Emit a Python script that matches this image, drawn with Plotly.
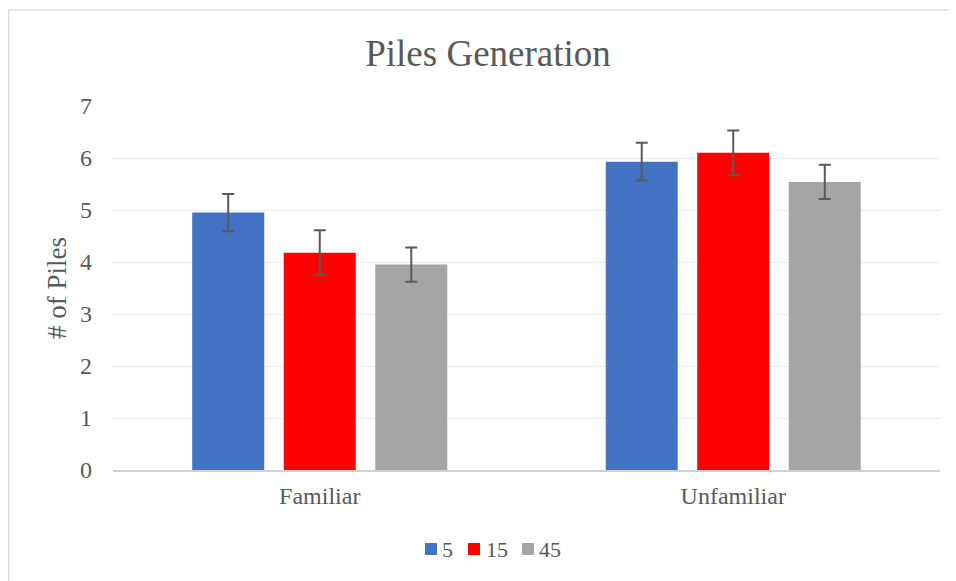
import plotly.graph_objects as go

categories = ["Familiar", "Unfamiliar"]
series_names = ["5", "15", "45"]
values_5 = [4.95, 5.93]
values_15 = [4.18, 6.10]
values_45 = [3.95, 5.54]
err_5 = [0.36, 0.365]
err_15 = [0.43, 0.43]
err_45 = [0.33, 0.33]
y_ticks = [0, 1, 2, 3, 4, 5, 6, 7]

colors = ["#4472C4", "#FF0000", "#A5A5A5"]
FONT = "Liberation Serif, Times New Roman, serif"
TXT = "#595959"

# figure geometry (page body has an 8px margin)
W, H = 948, 573
L, R, T, B = 105, 16, 98, 111
PW, PH = W - L - R, H - T - B
OX, OY = 8, 8


def px_x(X):
    return (X - OX - L) / PW


def px_y(Y):
    return (OY + T + PH - Y) / PH


fig = go.Figure()
for name, vals, errs, col in zip(series_names, [values_5, values_15, values_45],
                                 [err_5, err_15, err_45], colors):
    fig.add_trace(go.Bar(
        x=categories, y=vals, name=name, marker=dict(color=col, line=dict(width=0)),
        error_y=dict(type="data", array=errs, visible=True, color=TXT,
                     thickness=2, width=6),
        showlegend=False,
    ))

border = dict(color="#d9d9d9", width=1.5)
shapes = [
    dict(type="line", xref="paper", yref="paper", x0=px_x(8.5), x1=px_x(8.5),
         y0=px_y(581), y1=px_y(10), line=border, layer="below"),
    dict(type="line", xref="paper", yref="paper", x0=px_x(8.5), x1=px_x(956),
         y0=px_y(10), y1=px_y(10), line=border, layer="below"),
]
annotations = []
# custom legend
sq_left = [425, 468, 522]
txt_left = [441, 485, 538]
for name, col, sx, tx in zip(series_names, colors, sq_left, txt_left):
    shapes.append(dict(type="rect", xref="paper", yref="paper",
                       x0=px_x(sx), x1=px_x(sx + 12), y0=px_y(555), y1=px_y(543),
                       line=dict(width=0), fillcolor=col))
    annotations.append(dict(text=name, xref="paper", yref="paper", x=px_x(tx - 1),
                            y=px_y(549), xanchor="left", yanchor="middle",
                            showarrow=False,
                            font=dict(family=FONT, size=22, color=TXT)))

fig.update_layout(
    width=W, height=H,
    margin=dict(l=L, r=R, t=T, b=B),
    paper_bgcolor="white", plot_bgcolor="white",
    barmode="group", bargap=0.336, bargroupgap=0.213,
    font=dict(family=FONT, color=TXT, size=24),
    title=dict(text="Piles Generation", x=480 / W, xanchor="center",
               y=1 - 45 / H, yanchor="middle",
               font=dict(family=FONT, size=37, color=TXT)),
    showlegend=False,
    yaxis=dict(range=[0, 7], tickvals=y_ticks, showgrid=True, gridcolor="#ececec",
               gridwidth=1, zeroline=False, showline=False,
               ticklabelstandoff=20, tickfont=dict(size=24, color=TXT),
               title=dict(text="# of Piles", standoff=5,
                          font=dict(family=FONT, size=27, color=TXT))),
    xaxis=dict(showline=True, linecolor="#d0d0d0", linewidth=1.5, showgrid=False,
               ticks="", ticklabelstandoff=3, tickfont=dict(size=24, color=TXT)),
    shapes=shapes,
    annotations=annotations,
)

fig.write_html("out.html")
